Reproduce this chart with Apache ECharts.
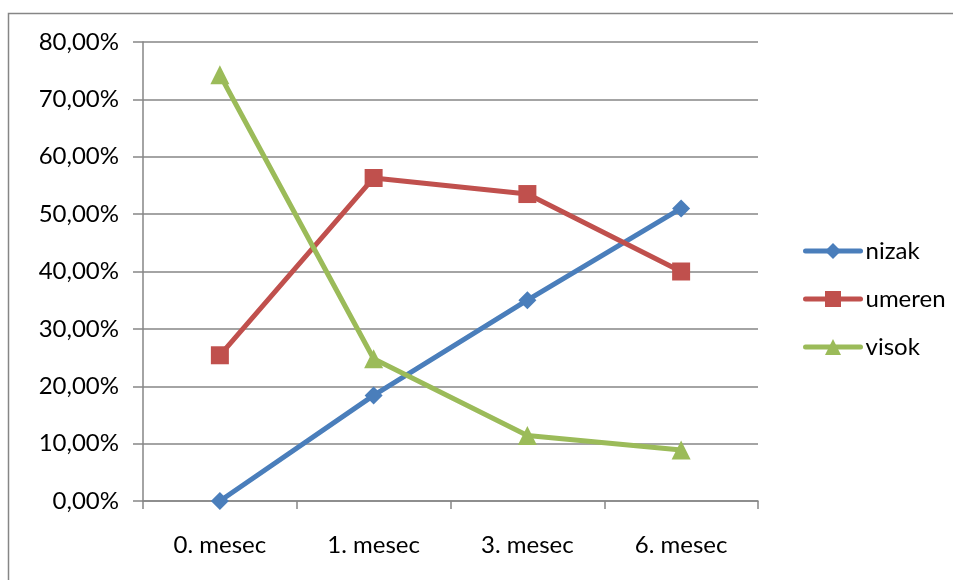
<!DOCTYPE html>
<html>
<head>
<meta charset="utf-8">
<script src="https://cdn.jsdelivr.net/npm/echarts@6/dist/echarts.min.js"></script>
<style>
  html, body { margin: 0; padding: 0; background: #fff; }
  #chart { width: 953px; height: 580px; }
</style>
</head>
<body>
<div id="chart"></div>
<script>
// Categories (months) and the share of each group per month (fractions)
const categories = ['0. mesec', '1. mesec', '3. mesec', '6. mesec'];
const nizak = [0.0, 0.184, 0.35, 0.51];
const umeren = [0.254, 0.563, 0.535, 0.40];
const visok = [0.743, 0.248, 0.114, 0.089];

const FONT = 'Lato';
const GRID_COLOR = '#868686';

function pct(v) {
  return (v * 100).toFixed(2).replace('.', ',') + '%';
}

function lineSeries(name, data, color, symbol, size) {
  return {
    name: name,
    type: 'line',
    data: data,
    symbol: symbol,
    symbolSize: size,
    lineStyle: { color: color, width: 5, cap: 'round', join: 'round' },
    itemStyle: { color: color },
    emphasis: { disabled: true },
    animation: false
  };
}

const chart = echarts.init(document.getElementById('chart'));
chart.setOption({
  animation: false,
  backgroundColor: '#ffffff',
  graphic: [{
    type: 'rect',
    shape: { x: 8.5, y: 13.5, width: 1000, height: 1000 },
    style: { fill: 'none', stroke: '#868686', lineWidth: 1.5 },
    silent: true
  }],
  grid: { left: 143, right: 195, top: 42, bottom: 79 },
  legend: {
    orient: 'vertical',
    left: 798,
    top: 234,
    itemGap: 24,
    itemWidth: 55,
    itemHeight: 20,
    itemStyle: { borderWidth: 0 },
    lineStyle: { width: 5, cap: 'round' },
    textStyle: { fontFamily: FONT, fontSize: 24, color: '#000' },
    data: ['nizak', 'umeren', 'visok']
  },
  xAxis: {
    type: 'category',
    data: categories,
    boundaryGap: true,
    axisLine: { lineStyle: { color: GRID_COLOR, width: 1.5 } },
    axisTick: { show: true, inside: false, length: 8, interval: 0, lineStyle: { color: GRID_COLOR, width: 1.5 } },
    axisLabel: { fontFamily: FONT, fontSize: 24, color: '#000', margin: 32 }
  },
  yAxis: {
    type: 'value',
    min: 0,
    max: 0.8,
    interval: 0.1,
    axisLine: { show: true, lineStyle: { color: GRID_COLOR, width: 1.5 } },
    axisTick: { show: true, length: 10, lineStyle: { color: GRID_COLOR, width: 1.5 } },
    splitLine: { lineStyle: { color: GRID_COLOR, width: 1.5 } },
    axisLabel: { fontFamily: FONT, fontSize: 24, color: '#000', margin: 24, formatter: pct }
  },
  series: [
    lineSeries('nizak', nizak, '#4A7EBB', 'diamond', 18),
    lineSeries('umeren', umeren, '#C0504D', 'rect', 18),
    lineSeries('visok', visok, '#9BBB59', 'triangle', 19)
  ]
});
</script>
</body>
</html>
